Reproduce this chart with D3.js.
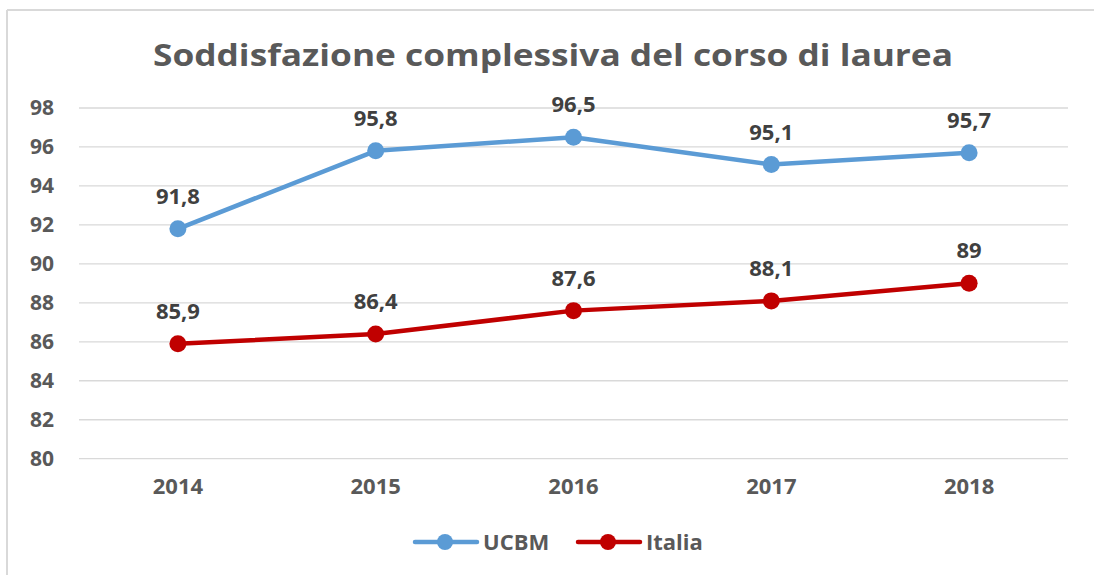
<!DOCTYPE html>
<html>
<head>
<meta charset="utf-8">
<script src="https://cdn.jsdelivr.net/npm/d3@7"></script>
<style>
  body { margin: 0; background: #fff; }
  svg { display: block; font-family: "Open Sans", sans-serif; }
</style>
</head>
<body>
<div id="chart"></div>
<script>
// data
var years = ["2014", "2015", "2016", "2017", "2018"];
var ucbm = [91.8, 95.8, 96.5, 95.1, 95.7];
var italia = [85.9, 86.4, 87.6, 88.1, 89];
var yTicks = [80, 82, 84, 86, 88, 90, 92, 94, 96, 98];

var w = 1094, h = 575;
var plotLeft = 79, plotRight = 1068, plotTop = 108, plotBottom = 458.7;

var svg = d3.select("#chart").append("svg")
  .attr("width", w).attr("height", h);

// frame (only top and left edges visible in the crop)
svg.append("line").attr("x1", 7).attr("x2", w).attr("y1", 10).attr("y2", 10)
  .attr("stroke", "#d9d9d9").attr("stroke-width", 2);
svg.append("line").attr("x1", 7).attr("x2", 7).attr("y1", 10).attr("y2", h)
  .attr("stroke", "#d9d9d9").attr("stroke-width", 2);

svg.append("text")
  .attr("x", 553).attr("y", 66)
  .attr("text-anchor", "middle")
  .attr("font-size", 31).attr("font-weight", 700)
  .attr("fill", "#595959")
  .attr("textLength", 800).attr("lengthAdjust", "spacingAndGlyphs")
  .text("Soddisfazione complessiva del corso di laurea");

var x = d3.scaleBand().domain(years).range([plotLeft, plotRight]);
var y = d3.scaleLinear().domain([80, 98]).range([plotBottom, plotTop]);

// gridlines
svg.append("g")
  .selectAll("line").data(yTicks).enter().append("line")
  .attr("x1", plotLeft).attr("x2", plotRight)
  .attr("y1", function(d) { return y(d); })
  .attr("y2", function(d) { return y(d); })
  .attr("stroke", "#d9d9d9").attr("stroke-width", 1.3);

// y axis labels
var yAxis = svg.append("g")
  .attr("transform", "translate(" + (plotLeft - 25) + ",0)")
  .call(d3.axisLeft(y).tickValues(yTicks).tickSize(0).tickPadding(0));
yAxis.select(".domain").remove();
yAxis.selectAll("text")
  .attr("font-size", 21).attr("font-weight", 700)
  .attr("fill", "#595959").attr("font-family", "Open Sans");

// x axis labels
var xAxis = svg.append("g")
  .attr("transform", "translate(0," + (plotBottom + 20) + ")")
  .call(d3.axisBottom(x).tickSize(0).tickPadding(0));
xAxis.select(".domain").remove();
xAxis.selectAll("text")
  .attr("font-size", 22).attr("font-weight", 700)
  .attr("fill", "#595959").attr("font-family", "Open Sans");

var series = [
  { name: "UCBM", values: ucbm, color: "#5b9bd5" },
  { name: "Italia", values: italia, color: "#c00000" }
];

var line = d3.line()
  .x(function(d, i) { return x(years[i]) + x.bandwidth() / 2; })
  .y(function(d) { return y(d); });

series.forEach(function(s) {
  var g = svg.append("g");
  g.append("path")
    .attr("d", line(s.values))
    .attr("fill", "none")
    .attr("stroke", s.color)
    .attr("stroke-width", 4.5)
    .attr("stroke-linejoin", "round");
  g.selectAll("circle").data(s.values).enter().append("circle")
    .attr("cx", function(d, i) { return x(years[i]) + x.bandwidth() / 2; })
    .attr("cy", function(d) { return y(d); })
    .attr("r", 8.5)
    .attr("fill", s.color);
  g.selectAll("text").data(s.values).enter().append("text")
    .attr("x", function(d, i) { return x(years[i]) + x.bandwidth() / 2; })
    .attr("y", function(d) { return y(d) - 25; })
    .attr("text-anchor", "middle")
    .attr("font-size", 22).attr("font-weight", 700)
    .attr("fill", "#404040")
    .text(function(d) { return String(d).replace(".", ","); });
});

// legend
var legend = [
  { name: "UCBM", color: "#5b9bd5", x0: 415 },
  { name: "Italia", color: "#c00000", x0: 578 }
];
legend.forEach(function(l) {
  var g = svg.append("g").attr("transform", "translate(" + l.x0 + ",542)");
  g.append("line").attr("x1", 0).attr("x2", 62)
    .attr("stroke", l.color).attr("stroke-width", 4.5).attr("stroke-linecap", "round");
  g.append("circle").attr("cx", 30).attr("r", 8).attr("fill", l.color);
  g.append("text").attr("x", 68).attr("y", 8)
    .attr("font-size", 22).attr("font-weight", 700)
    .attr("fill", "#595959")
    .text(l.name);
});
</script>
</body>
</html>
